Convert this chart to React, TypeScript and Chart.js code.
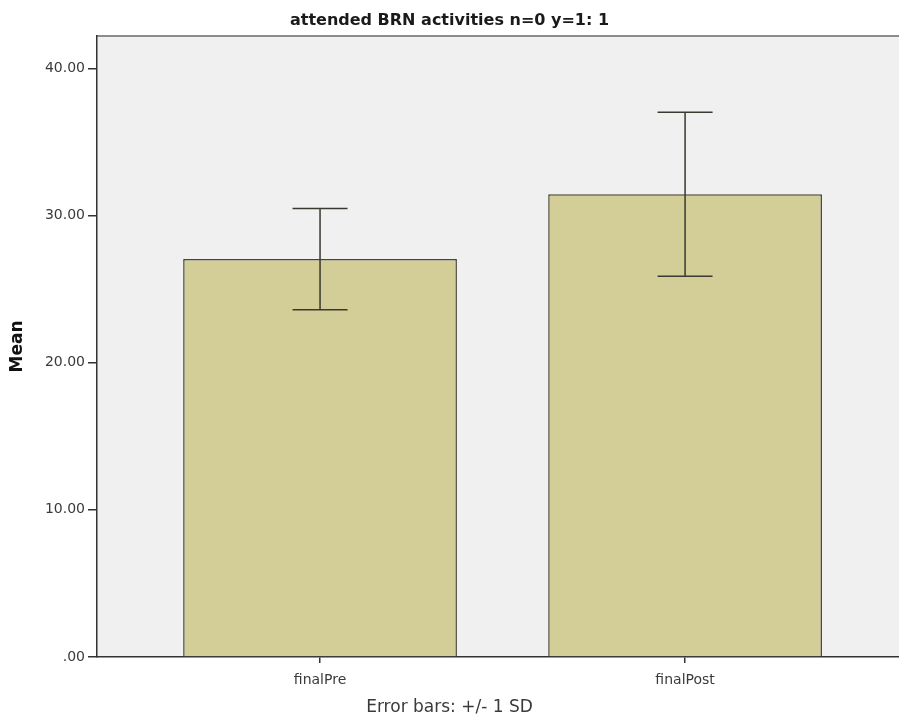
import React, { useEffect, useRef } from "react";
import { Chart, registerables } from "chart.js";

Chart.register(...registerables);

const categories = ["finalPre", "finalPost"];
const means = [27.04, 31.44];
const sds = [3.44, 5.57];
const yTicks = [0, 10, 20, 30, 40];
const chartTitle = "attended BRN activities n=0 y=1: 1";
const footnote = "Error bars: +/- 1 SD";
const yTitle = "Mean";

const FONT = "'DejaVu Sans', Verdana, sans-serif";

const plotDecor = {
  id: "plotDecor",
  beforeDraw(chart: any) {
    const { ctx, chartArea } = chart;
    ctx.save();
    ctx.fillStyle = "#f0f0f0";
    ctx.fillRect(chartArea.left, chartArea.top, chartArea.right - chartArea.left, chartArea.bottom - chartArea.top);
    ctx.strokeStyle = "#8c8c8c";
    ctx.lineWidth = 2;
    ctx.beginPath();
    ctx.moveTo(chartArea.left, chartArea.top);
    ctx.lineTo(chartArea.right, chartArea.top);
    ctx.stroke();
    ctx.restore();
  },
};

const errorBars = {
  id: "errorBars",
  afterDatasetsDraw(chart: any) {
    const { ctx, scales } = chart;
    const xs = scales.x;
    const ys = scales.y;
    ctx.save();
    ctx.strokeStyle = "#3a3a32";
    ctx.lineWidth = 1.5;
    means.forEach((m, i) => {
      const x = xs.getPixelForValue(i);
      const yt = ys.getPixelForValue(m + sds[i]);
      const yb = ys.getPixelForValue(m - sds[i]);
      const half = 27.5;
      ctx.beginPath();
      ctx.moveTo(x, yt);
      ctx.lineTo(x, yb);
      ctx.moveTo(x - half, yt);
      ctx.lineTo(x + half, yt);
      ctx.moveTo(x - half, yb);
      ctx.lineTo(x + half, yb);
      ctx.stroke();
    });
    ctx.restore();
  },
};

export default function App() {
  const ref = useRef<HTMLCanvasElement | null>(null);
  useEffect(() => {
    document.body.style.margin = "0";
    const canvas = ref.current;
    if (!canvas) return;
    const chart = new Chart(canvas, {
      type: "bar",
      data: {
        datasets: [
          {
            data: means.map((m, i) => ({ x: i, y: m })),
            backgroundColor: "#d3ce97",
            borderColor: "#45453a",
            borderWidth: 1.5,
            barPercentage: 0.75,
            categoryPercentage: 1,
          },
        ],
      },
      options: {
        responsive: false,
        animation: false,
        devicePixelRatio: 1,
        layout: { padding: 0 },
        plugins: {
          legend: { display: false },
          tooltip: { enabled: false },
          title: {
            display: true,
            text: chartTitle,
            color: "#1a1a1a",
            font: { family: FONT, size: 16, weight: "bold" },
            padding: { top: 11, bottom: 5.8 },
          },
          subtitle: {
            display: true,
            position: "bottom",
            text: footnote,
            color: "#3a3a3a",
            font: { family: FONT, size: 17, weight: "normal" },
            padding: { top: 0, bottom: 4.3 },
          },
        },
        scales: {
          x: {
            type: "linear",
            min: -0.611,
            max: 1.586,
            offset: false,
            afterBuildTicks: (scale: any) => {
              scale.ticks = categories.map((_, i) => ({ value: i }));
            },
            afterFit: (scale: any) => {
              scale.height = 40.3;
            },
            ticks: {
              autoSkip: false,
              maxRotation: 0,
              padding: 9,
              color: "#3a3a3a",
              font: { family: FONT, size: 14 },
              callback: (v: any) => categories[Math.round(Number(v))] ?? "",
            },
            grid: {
              display: true,
              offset: false,
              drawOnChartArea: false,
              drawTicks: true,
              tickLength: 6,
              color: "#333",
              lineWidth: 1.5,
            },
            border: { display: true, color: "#333", width: 1.5 },
          },
          y: {
            type: "linear",
            min: 0,
            max: 42.2,
            afterBuildTicks: (scale: any) => {
              scale.ticks = yTicks.map((v) => ({ value: v }));
            },
            afterFit: (scale: any) => {
              scale.width = 97;
            },
            ticks: {
              padding: 3,
              color: "#3a3a3a",
              font: { family: FONT, size: 14 },
              callback: (v: any) => (Number(v) === 0 ? ".00" : Number(v).toFixed(2)),
            },
            grid: {
              display: true,
              drawOnChartArea: false,
              drawTicks: true,
              tickLength: 9,
              color: "#333",
              lineWidth: 1.5,
            },
            border: { display: true, color: "#333", width: 1.5 },
            title: {
              display: true,
              text: yTitle,
              color: "#111",
              font: { family: FONT, size: 17, weight: "bold" },
              padding: { top: 7, bottom: 0 },
            },
          },
        },
      },
      plugins: [plotDecor, errorBars],
    } as any);
    return () => chart.destroy();
  }, []);
  return <canvas ref={ref} width={899} height={722} style={{ display: "block" }} />;
}
